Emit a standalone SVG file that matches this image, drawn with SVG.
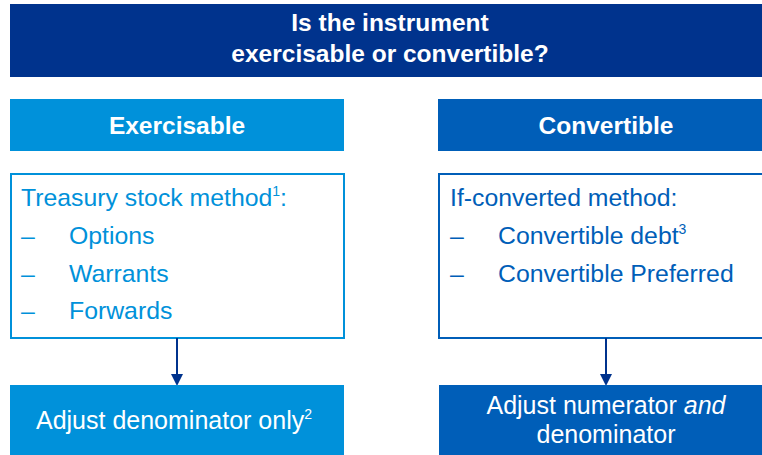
<svg xmlns="http://www.w3.org/2000/svg" width="762" height="455" viewBox="0 0 762 455">
<style>
text{font-family:"Liberation Sans",Arial,sans-serif}
.hd{fill:#fff;font-weight:bold;font-size:24.5px;text-anchor:middle}
.lt{fill:#0091DA;font-size:24.8px}
.rt{fill:#005EB8;font-size:24.8px}
.wt{fill:#fff;font-size:25px;text-anchor:middle}
.sup{font-size:14px}
.conn{stroke:#00338D;stroke-width:2;fill:none}
</style>
<defs>
<marker id="ah" markerWidth="12" markerHeight="12" refX="10" refY="6" orient="auto" markerUnits="userSpaceOnUse" viewBox="0 0 12 12">
<path d="M0,0 L12,6 L0,12 Z" fill="#00338D"/>
</marker>
</defs>
<g id="question">
<rect x="10" y="4" width="752" height="73" fill="#00338D"/>
<text class="hd" x="390" y="31">Is the instrument</text>
<text class="hd" x="390" y="62">exercisable or convertible?</text>
</g>
<g id="exercisable">
<rect x="10" y="99" width="334" height="52" fill="#0091DA"/>
<text class="hd" x="177" y="134">Exercisable</text>
</g>
<g id="convertible">
<rect x="438" y="99" width="324" height="52" fill="#005EB8"/>
<text class="hd" x="606" y="134">Convertible</text>
</g>
<g id="treasury">
<rect x="11" y="174" width="333" height="164" fill="#fff" stroke="#0091DA" stroke-width="2"/>
<text class="lt" x="21" y="206">Treasury stock method<tspan class="sup" dy="-10">1</tspan><tspan dy="10">:</tspan></text>
<text class="lt" x="21" y="244">–</text><text class="lt" x="69" y="244">Options</text>
<text class="lt" x="21" y="282">–</text><text class="lt" x="69" y="282">Warrants</text>
<text class="lt" x="21" y="319">–</text><text class="lt" x="69" y="319">Forwards</text>
</g>
<g id="ifconverted">
<rect x="439" y="174" width="330" height="164" fill="#fff" stroke="#005EB8" stroke-width="2"/>
<text class="rt" x="450" y="206">If-converted method:</text>
<text class="rt" x="450" y="244">–</text><text class="rt" x="498" y="244">Convertible debt<tspan class="sup" dy="-10">3</tspan></text>
<text class="rt" x="450" y="282">–</text><text class="rt" x="498" y="282">Convertible Preferred</text>
</g>
<g id="connectors">
<line class="conn" x1="177" y1="338" x2="177" y2="384" marker-end="url(#ah)"/>
<line class="conn" x1="606" y1="338" x2="606" y2="384" marker-end="url(#ah)"/>
</g>
<g id="adjust-denominator">
<rect x="10" y="385" width="334" height="70" fill="#0091DA"/>
<text class="wt" x="174" y="429">Adjust denominator only<tspan class="sup" dy="-10">2</tspan></text>
</g>
<g id="adjust-both">
<rect x="439" y="385" width="323" height="70" fill="#005EB8"/>
<text class="wt" x="606" y="414">Adjust numerator <tspan font-style="italic">and</tspan></text>
<text class="wt" x="606" y="443">denominator</text>
</g>
</svg>
